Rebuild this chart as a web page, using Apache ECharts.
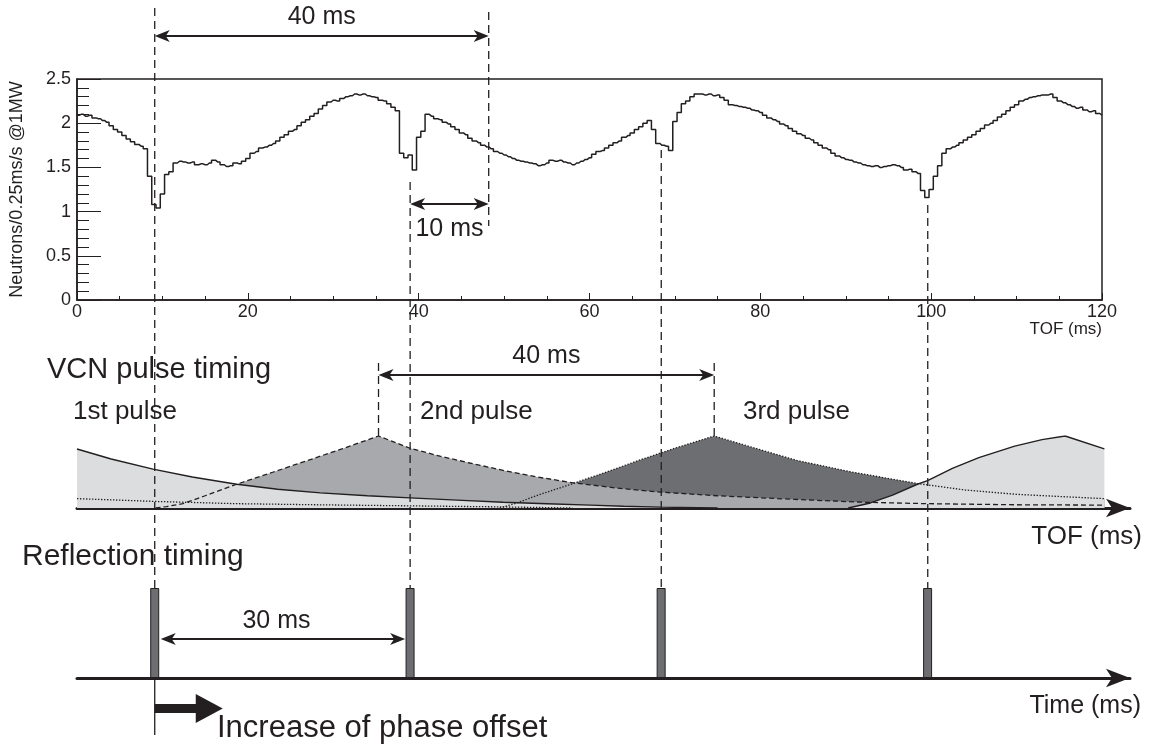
<!DOCTYPE html>
<html><head><meta charset="utf-8">
<script src="https://cdn.jsdelivr.net/npm/echarts@6/dist/echarts.min.js"></script>
<style>html,body{margin:0;padding:0;background:#fff}#c{width:1156px;height:749px}</style>
</head><body><div id="c"></div>
<script>
// ---------- data ----------
const binWidth = 0.5; // ms per sample of the measured spectrum
const neutronRate = [
  2.09,2.10,2.08,2.09,2.06,2.05,2.03,2.01,1.97,1.93,
  1.90,1.86,1.82,1.79,1.76,1.74,1.71,1.40,1.08,1.04,
  1.20,1.42,1.45,1.55,1.57,1.56,1.55,1.56,1.53,1.54,
  1.53,1.55,1.58,1.56,1.53,1.51,1.52,1.55,1.54,1.57,
  1.60,1.66,1.68,1.72,1.73,1.75,1.77,1.80,1.84,1.87,
  1.91,1.93,1.97,2.01,2.04,2.08,2.11,2.16,2.20,2.24,
  2.26,2.25,2.28,2.30,2.31,2.33,2.32,2.33,2.31,2.30,
  2.29,2.26,2.25,2.22,2.18,2.14,1.66,1.61,1.64,1.47,
  1.84,1.91,2.10,2.08,2.05,2.04,2.01,1.99,1.96,1.93,
  1.89,1.87,1.83,1.80,1.78,1.75,1.73,1.71,1.68,1.66,
  1.64,1.62,1.60,1.58,1.57,1.56,1.55,1.54,1.52,1.53,
  1.55,1.58,1.57,1.58,1.56,1.55,1.53,1.55,1.57,1.59,
  1.61,1.65,1.68,1.69,1.72,1.75,1.78,1.80,1.84,1.86,
  1.89,1.93,1.96,2.00,2.03,1.93,1.77,1.75,1.74,1.69,
  2.02,2.12,2.22,2.25,2.30,2.33,2.33,2.32,2.33,2.31,
  2.32,2.29,2.26,2.21,2.20,2.19,2.18,2.17,2.15,2.14,
  2.12,2.09,2.06,2.04,2.02,1.99,1.97,1.94,1.91,1.88,
  1.86,1.83,1.81,1.78,1.75,1.72,1.70,1.66,1.63,1.61,
  1.59,1.58,1.56,1.55,1.53,1.52,1.51,1.52,1.50,1.51,
  1.52,1.53,1.52,1.50,1.47,1.48,1.45,1.43,1.24,1.16,
  1.25,1.40,1.52,1.66,1.71,1.73,1.75,1.78,1.81,1.84,
  1.87,1.91,1.94,1.98,2.00,2.03,2.07,2.10,2.14,2.18,
  2.21,2.25,2.27,2.29,2.30,2.31,2.32,2.32,2.33,2.29,
  2.25,2.23,2.21,2.19,2.17,2.18,2.15,2.13,2.14,2.11,
  2.09
];
const tofTickStep = 20;
const rateTickStep = 0.5;

// VCN pulse shapes (TOF ms, relative intensity)
const pulsePrev = [[0,0.13],[9.5,0.09],[18.7,0.06],[28,0.045],[39,0.03],[50,0.015],[58,0]];
const pulse1 = [[0,0.82],[4,0.68],[8.9,0.54],[13.5,0.43],[18.7,0.33],[23.5,0.26],[28.5,0.21],[34,0.17],[39,0.14],[44.5,0.11],[49.9,0.08],[55,0.06],[60.1,0.04],[64,0.025],[68.3,0.012],[75,0]];
const pulse2 = [[9.2,0],[10.5,0.02],[12.4,0.06],[15,0.17],[18.7,0.33],[23,0.5],[27,0.66],[31,0.82],[35.3,1.0],[39,0.83],[42.5,0.72],[46,0.625],[50,0.52],[53.9,0.43],[58.1,0.35],[63,0.28],[68.4,0.22],[75,0.17],[84,0.12],[92,0.08],[99.6,0.06],[110,0.045],[120.3,0.04]];
const pulse3 = [[49.5,0],[51.5,0.07],[54,0.18],[58.1,0.34],[62,0.5],[66,0.67],[70,0.83],[74.6,1.0],[78,0.88],[84.3,0.66],[90.7,0.5],[98.4,0.34],[104,0.25],[110,0.19],[115,0.16],[120.3,0.13]];
const pulse4 = [[90.3,0],[92.9,0.07],[95.5,0.18],[98.4,0.33],[99.6,0.38],[102.5,0.55],[105.6,0.70],[109.8,0.86],[113,0.95],[115.7,1.0],[120.3,0.82]];

const reflectionTimes = [9.1, 39.0, 68.4, 99.6];
const pulsePeaks = [35.3, 74.6];
const markerTOF = 48.2;

// ---------- style ----------
const INK = '#231f20';
const FONT = '"Liberation Sans", Arial, Helvetica, sans-serif';
const LIGHT = '#dcddde', MID = '#a7a9ac', DARK = '#6d6e71';

const chart = echarts.init(document.getElementById('c'), null, {renderer: 'canvas'});

function fillSeries(data, color) {
  return {type: 'line', xAxisIndex: 1, yAxisIndex: 1, data: data, symbol: 'none', silent: true,
    lineStyle: {width: 0, opacity: 0}, areaStyle: {color: color, opacity: 1}, z: 2};
}
function outlineSeries(data, kind) {
  const type = kind === 'dashed' ? [5, 3] : kind === 'dotted' ? [1.4, 1.6] : 'solid';
  return {type: 'line', xAxisIndex: 1, yAxisIndex: 1, data: data, symbol: 'none', silent: true,
    lineStyle: {color: INK, width: kind === 'solid' ? 1.4 : 1.3, type: type}, z: 3};
}

const arrowAxis = {
  type: 'value', min: 0, max: 123.3,
  axisLine: {show: true, symbol: ['none', 'arrow'], symbolSize: [14, 24], lineStyle: {color: INK, width: 3}},
  axisTick: {show: false}, axisLabel: {show: false}, splitLine: {show: false}
};

const option = {
  animation: false,
  backgroundColor: '#ffffff',
  grid: [
    {left: 77, top: 79, width: 1025, height: 221, show: true, borderColor: INK, borderWidth: 1.5},
    {left: 77, top: 436, width: 1053, height: 72},
    {left: 77, top: 588, width: 1053, height: 90}
  ],
  xAxis: [
    {gridIndex: 0, type: 'value', min: 0, max: 120, interval: tofTickStep,
      axisLine: {lineStyle: {color: INK, width: 1.5}},
      axisTick: {inside: true, length: 7, lineStyle: {color: INK, width: 1}},
      minorTick: {show: true, splitNumber: 4, length: 4, lineStyle: {color: INK, width: 1}},
      axisLabel: {color: INK, fontSize: 18, fontFamily: FONT, margin: 3},
      splitLine: {show: false}},
    Object.assign({gridIndex: 1}, arrowAxis),
    Object.assign({gridIndex: 2}, arrowAxis)
  ],
  yAxis: [
    {gridIndex: 0, type: 'value', min: 0, max: 2.5, interval: rateTickStep,
      name: 'Neutrons/0.25ms/s @1MW', nameLocation: 'middle', nameGap: 51,
      nameTextStyle: {fontSize: 18, color: INK, fontFamily: FONT},
      axisLine: {show: true, lineStyle: {color: INK, width: 1.5}},
      axisTick: {inside: true, length: 24, lineStyle: {color: INK, width: 1}},
      minorTick: {show: true, splitNumber: 5, length: 12, lineStyle: {color: INK, width: 1}},
      axisLabel: {color: INK, fontSize: 18, fontFamily: FONT, margin: 6},
      splitLine: {show: false}},
    {gridIndex: 1, type: 'value', min: 0, max: 1, show: false},
    {gridIndex: 2, type: 'value', min: 0, max: 1, show: false}
  ],
  series: [
    {type: 'line', xAxisIndex: 0, yAxisIndex: 0, step: 'middle', symbol: 'none', silent: true,
      data: neutronRate.map((v, i) => [i * binWidth, v]),
      lineStyle: {color: INK, width: 1.5}},
    fillSeries(pulse3, DARK),
    fillSeries(pulse2, MID),
    fillSeries(pulse1, LIGHT),
    fillSeries(pulse4, LIGHT),
    outlineSeries(pulsePrev, 'dotted'),
    outlineSeries(pulse3, 'dotted'),
    outlineSeries(pulse2, 'dashed'),
    outlineSeries(pulse1, 'solid'),
    outlineSeries(pulse4, 'solid'),
    {type: 'bar', xAxisIndex: 2, yAxisIndex: 2, silent: true,
      data: reflectionTimes.map(t => [t, 1]), barWidth: 9,
      itemStyle: {color: DARK, borderColor: INK, borderWidth: 1}}
  ]
};
chart.setOption(option);

// ---------- annotations placed through the axis scale ----------
const px = t => chart.convertToPixel({xAxisIndex: 0}, t);
const G = [];
function vline(x, y1, y2, dashed) {
  G.push({type: 'line', z: 100, silent: true, shape: {x1: x, y1: y1, x2: x, y2: y2},
    style: {stroke: INK, lineWidth: 1.3, lineDash: dashed ? [8, 5] : null}});
}
function head(x, y, dir) {
  G.push({type: 'polygon', z: 101, silent: true,
    shape: {points: [[x, y], [x + dir * 15, y - 6], [x + dir * 11, y], [x + dir * 15, y + 6]]},
    style: {fill: INK}});
}
function dblArrow(x1, x2, y) {
  G.push({type: 'line', z: 100, silent: true, shape: {x1: x1 + 8, y1: y, x2: x2 - 8, y2: y},
    style: {stroke: INK, lineWidth: 2}});
  head(x1, y, 1); head(x2, y, -1);
}
function text(str, x, y, size, align) {
  G.push({type: 'text', z: 102, silent: true,
    style: {text: str, x: x, y: y, fill: INK, font: size + 'px ' + FONT, align: align || 'left', verticalAlign: 'middle'}});
}

const rx = reflectionTimes.map(px);
const mx = px(markerTOF);
const pk = pulsePeaks.map(px);
const lineTops = [8, 182, 150, 205];
rx.forEach((x, i) => vline(x, lineTops[i], 588, true));
vline(rx[0], 678, 735, false);
vline(mx, 12, 226, true);
pk.forEach(x => vline(x, 363, 436, true));

dblArrow(rx[0], mx, 36);
text('40 ms', (rx[0] + mx) / 2, 17, 25, 'center');
dblArrow(rx[1], mx, 204);
text('10 ms', (rx[1] + mx) / 2, 229, 25, 'center');
dblArrow(pk[0], pk[1], 375);
text('40 ms', (pk[0] + pk[1]) / 2, 356, 25, 'center');
dblArrow(rx[0] + 6, rx[1] - 5, 639);
text('30 ms', (rx[0] + rx[1]) / 2 - 6, 621, 25, 'center');

// phase-offset arrow
G.push({type: 'rect', z: 100, silent: true, shape: {x: rx[0], y: 704, width: 42, height: 9}, style: {fill: INK}});
G.push({type: 'polygon', z: 100, silent: true, shape: {points: [[rx[0] + 41, 694], [rx[0] + 68, 708.5], [rx[0] + 41, 723]]}, style: {fill: INK}});

text('TOF (ms)', 1102, 329, 17, 'right');
text('VCN pulse timing', 47, 370, 29);
text('1st pulse', 73, 412, 26);
text('2nd pulse', 420, 412, 26);
text('3rd pulse', 743, 412, 26);
text('TOF (ms)', 1142, 537, 26, 'right');
text('Reflection timing', 22, 557, 30);
text('Time (ms)', 1141, 706, 25, 'right');
text('Increase of phase offset', 217, 728, 31);

chart.setOption({graphic: G});
</script>
</body></html>
